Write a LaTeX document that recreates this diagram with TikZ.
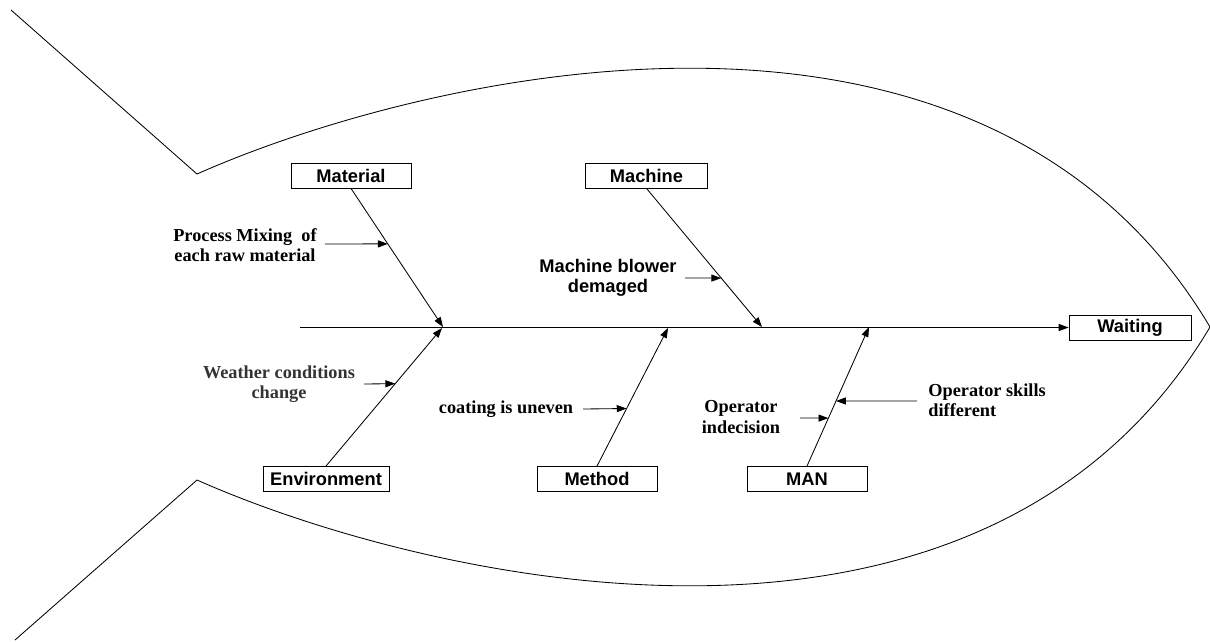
\documentclass[tikz,border=0pt]{standalone}
\usepackage{fontspec}
\setmainfont{Liberation Serif}
\setsansfont{Liberation Sans}
\usetikzlibrary{arrows.meta,calc}

\begin{document}
\begin{tikzpicture}[x=0.025cm, y=-0.025cm,
  line width=0.6pt,
  arr/.style={-{Triangle[length=7pt,width=5pt]}},
  catbox/.style={draw, minimum width=3cm, minimum height=0.625cm, inner sep=0pt,
    font=\sffamily\bfseries\fontsize{13}{14.5}\selectfont},
  cause/.style={align=center, inner sep=0pt,
    font=\rmfamily\bfseries\fontsize{13}{14.5}\selectfont},
  causesf/.style={align=center, inner sep=0pt,
    font=\sffamily\bfseries\fontsize{13}{14.5}\selectfont}]
\useasboundingbox (0,0) rectangle (1210,641);

% fish outline: tail and body
\draw (11,10) -- (197,174)
  .. controls (420,75) and (980,-60) .. (1210,327)
  .. controls (980,714) and (420,579) .. (197,480) -- (15,640);

% category boxes and effect
\node[catbox] (mat) at (351,175.5) {Material};
\node[catbox, minimum width=3.03cm] (mac) at (646.5,175.5) {Machine};
\node[catbox, minimum width=3.15cm] (env) at (326,479) {Environment};
\node[catbox] (met) at (597,479) {Method};
\node[catbox] (man) at (807,479) {MAN};
\node[catbox, minimum width=3.05cm] (wait) at (1130,327.5) {Waiting};

% spine
\coordinate (head) at (300,327.5);
\draw[arr] (head) -- (wait.west);

% joints on the spine
\coordinate (jMat) at (443,327);
\coordinate (jMac) at (762,327);
\coordinate (jEnv) at (442,328);
\coordinate (jMet) at (668,328);
\coordinate (jMan) at (869,327);

% bones
\draw[arr] (mat.south) -- (jMat);
\draw[arr] (mac.south) -- (jMac);
\draw[arr] (env.north) -- (jEnv);
\draw[arr] (met.north) -- (jMet);
\draw[arr] (man.north) -- (jMan);

% causes
\node[cause] (c1) at (245,245) {Process Mixing\ \ of\\each raw material};
\coordinate (s1) at (325,244);
\draw[arr] (s1) -- ($(mat.south)!0.40!(jMat)$);

\node[causesf] (c2) at (608,278) {Machine blower\\demaged};
\coordinate (s2) at (685,278);
\draw[arr] (s2) -- ($(mac.south)!0.647!(jMac)$);

\node[cause, text=black!80] (c3) at (279,384) {Weather conditions\\change};
\coordinate (s3) at (364,384);
\draw[arr] (s3) -- ($(env.north)!0.597!(jEnv)$);

\node[cause] (c4) at (506,409) {coating is uneven};
\coordinate (s4) at (583,409);
\draw[arr] (s4) -- ($(met.north)!0.417!(jMet)$);

\node[cause] (c5) at (741,417) {Operator\\indecision};
\coordinate (s5) at (800,418);
\draw[arr] (s5) -- ($(man.north)!0.345!(jMan)$);

\node[cause, align=left, anchor=west] (c6) at (928,400) {Operator skills\\different};
\coordinate (s6) at (917,401);
\draw[arr] (s6) -- ($(man.north)!0.468!(jMan)$);
\end{tikzpicture}
\end{document}
